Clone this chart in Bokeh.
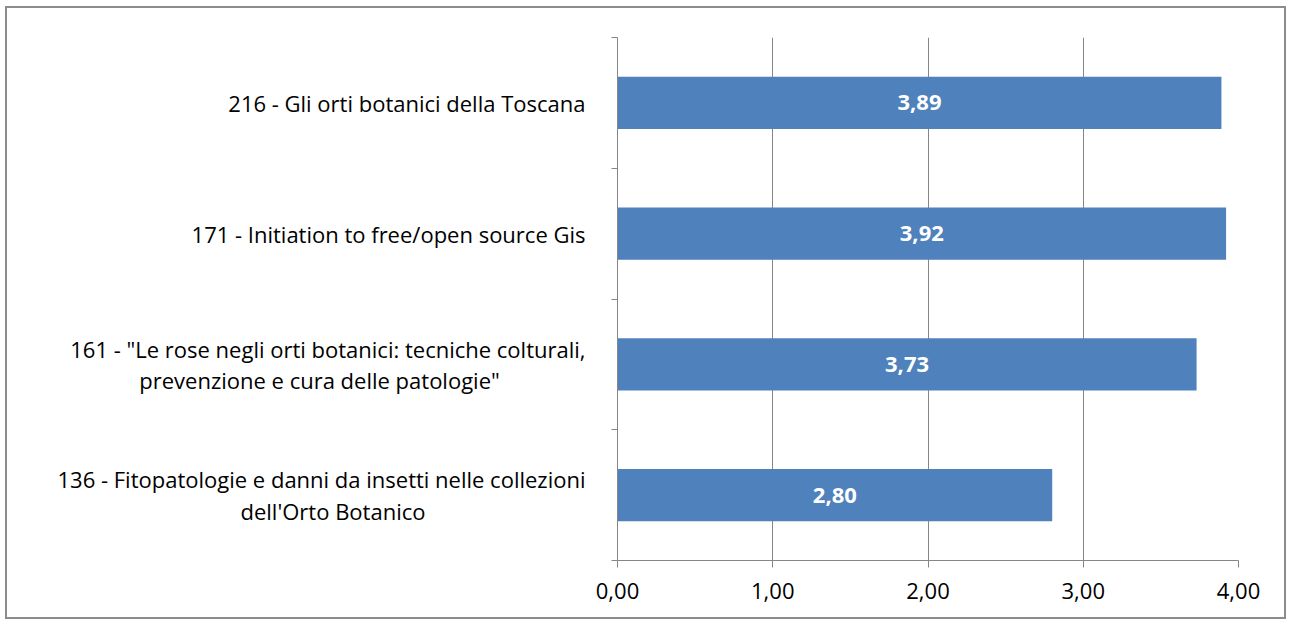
from bokeh.plotting import figure
from bokeh.models import FixedTicker, Range1d, ColumnDataSource
from bokeh.core.properties import value
from bokeh.embed import file_html
from bokeh.resources import INLINE

# ---- data (bottom to top) ----
categories = [
    "136 - Fitopatologie e danni da insetti nelle collezioni\ndell'Orto Botanico",
    "161 - \"Le rose negli orti botanici: tecniche colturali,\nprevenzione e cura delle patologie\"",
    "171 - Initiation to free/open source Gis",
    "216 - Gli orti botanici della Toscana",
]
values = [2.80, 3.73, 3.92, 3.89]
x_ticks = [0, 1, 2, 3, 4]

FONT = "Open Sans"
BAR = "#4F81BD"
GRAY = "#868686"
NB = "\u00a0"


def centered(label):
    # visually centre the second line of a two-line label under the first
    lines = label.split("\n")
    if len(lines) == 1:
        return label
    pad = max(0, round((len(lines[0]) - len(lines[1])) * 0.76))
    return lines[0] + "\n" + lines[1] + NB * pad


n = len(categories)
pos = [i + 0.5 for i in range(n)]
labels = [f"{v:.2f}".replace(".", ",") for v in values]
src = ColumnDataSource(dict(y=pos, v=values, half=[v / 2 for v in values], lab=labels))

p = figure(width=1281, height=613, output_backend="svg", toolbar_location=None,
           x_range=Range1d(0, 4), y_range=Range1d(0, n),
           min_border_left=610, min_border_right=50, min_border_top=29, min_border_bottom=61)
p.margin = (6, 0, 0, 5)
p.styles = {"border": "2px solid #8c8c8c"}
p.outline_line_color = None
p.background_fill_color = "white"
p.border_fill_color = "white"

p.hbar(y="y", right="v", left=0, height=0.4, source=src, color=BAR, line_color=None)
p.text(x="half", y="y", text="lab", source=src, text_color="white",
       text_font=value(FONT), text_font_style="bold", text_font_size="22px",
       text_align="center", text_baseline="middle")

# x axis
p.xaxis.ticker = FixedTicker(ticks=x_ticks)
p.xaxis.major_label_overrides = {t: f"{t:.2f}".replace(".", ",") for t in x_ticks}
p.xaxis.axis_line_color = GRAY
p.xaxis.major_tick_line_color = GRAY
p.xaxis.major_tick_out = 7
p.xaxis.major_tick_in = 0
p.xaxis.minor_tick_line_color = None
p.xaxis.major_label_text_font = FONT
p.xaxis.major_label_text_font_size = "22px"
p.xaxis.major_label_text_color = "black"
p.xaxis.major_label_standoff = 15

# y axis
p.yaxis.ticker = FixedTicker(ticks=pos, minor_ticks=[float(i) for i in range(n + 1)])
p.yaxis.major_label_overrides = {pv: centered(c) for pv, c in zip(pos, categories)}
p.yaxis.axis_line_color = GRAY
p.yaxis.major_tick_line_color = None
p.yaxis.major_tick_out = 0
p.yaxis.minor_tick_line_color = GRAY
p.yaxis.minor_tick_out = 6
p.yaxis.minor_tick_in = 0
p.yaxis.major_label_text_font = FONT
p.yaxis.major_label_text_font_size = "22px"
p.yaxis.major_label_text_line_height = 1.05
p.yaxis.major_label_text_color = "black"
p.yaxis.major_label_standoff = 26

p.xgrid.ticker = FixedTicker(ticks=x_ticks[1:])
p.xgrid.grid_line_color = GRAY
p.xgrid.grid_line_width = 1
p.ygrid.grid_line_color = None

open("out.html", "w").write(file_html(p, INLINE))
